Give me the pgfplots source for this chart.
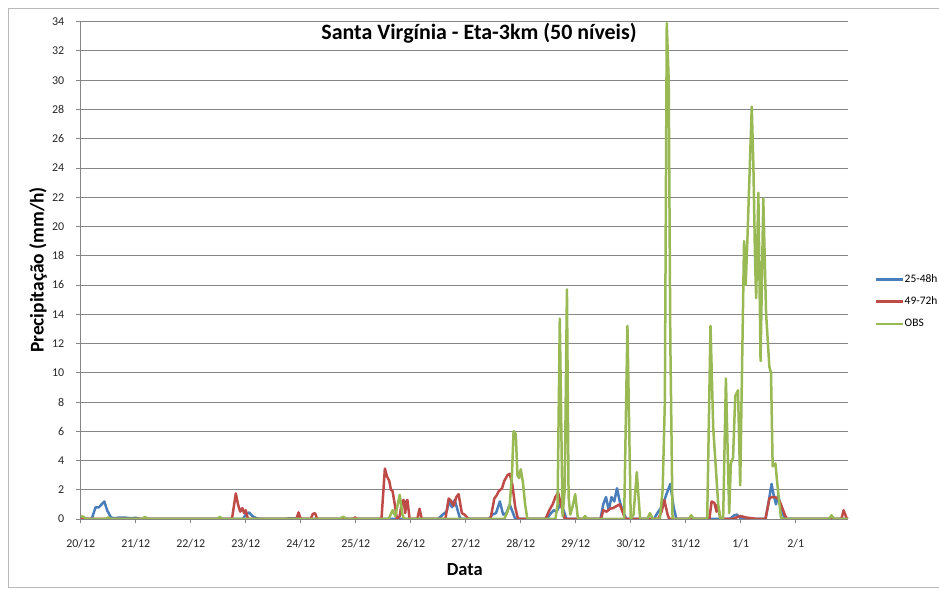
\documentclass[border=0pt]{standalone}
\usepackage{fontspec}
\setmainfont{Carlito}
\usepackage{pgfplots}
\pgfplotsset{compat=1.18}
\definecolor{sblue}{RGB}{74,126,187}
\definecolor{sred}{RGB}{190,75,72}
\definecolor{sgreen}{RGB}{152,185,84}
\definecolor{gridc}{RGB}{134,134,134}
\begin{document}
\begin{tikzpicture}
\path[use as bounding box] (0,0) rectangle (939bp,590bp);
\draw[gray!55,line width=0.8bp] (939bp,582bp) -- (8bp,582bp) -- (8bp,3bp) -- (939bp,3bp);
\begin{axis}[
 at={(80.7bp,71bp)}, anchor=south west,
 scale only axis, width=767.3bp, height=497.3bp,
 xmin=0, xmax=13.95, ymin=0, ymax=34,
 axis x line*=bottom, axis y line*=left,
 axis line style={-, gridc, line width=0.9bp},
 xtick={0,1,2,3,4,5,6,7,8,9,10,11,12,13},
 xticklabels={20/12,21/12,22/12,23/12,24/12,25/12,26/12,27/12,28/12,29/12,30/12,31/12,1/1,2/1},
 ytick={0,2,...,34},
 ymajorgrids, grid style={gridc, line width=0.9bp},
 tick align=outside, major tick length=4.5bp,
 tick style={gridc, line width=0.9bp},
 tick label style={font=\fontsize{12}{14}\selectfont, text=black!85},
 /pgf/number format/assume math mode=true,
 yticklabel style={anchor=east, inner sep=0pt, xshift=-11.7bp},
 xticklabel style={anchor=base, inner sep=0pt, yshift=-24.3bp},
 legend style={at={(1.0352,0.437)}, anchor=west, draw=none, fill=none,
   font=\fontsize{11.5}{13}\selectfont, inner sep=0pt, row sep=11.3bp,
   nodes={inner sep=0pt, text height=8.5bp, text depth=2.5bp}},
 legend cell align=left,
 legend image code/.code={\draw[#1, line width=2.5bp] (0bp,0bp) -- (23bp,0bp); \path (23bp,0bp) -- (27bp,0bp);},
 every axis plot/.append style={line width=2.5bp, line join=round, mark=none},
]
\addplot[sblue] coordinates {
(0,0) (0.2,0) (0.27,0.8) (0.33,0.8) (0.38,1.0) (0.43,1.2) (0.48,0.6) (0.55,0.1) (0.62,0.05) (0.7,0.1) (0.8,0.1) (0.9,0.05) (1.0,0.08) (1.1,0)
(2.95,0) (3.0,0.3) (3.06,0.45) (3.12,0.2) (3.2,0.05) (3.3,0)
(3.7,0) (3.8,0.05) (3.95,0.05) (4.0,0)
(6.5,0) (6.58,0.3) (6.65,0.5) (6.7,1.2) (6.75,0.8) (6.8,1.3) (6.86,0.5) (6.9,0)
(7.43,0) (7.48,0.3) (7.55,0.4) (7.62,1.2) (7.68,0.3) (7.74,0.4) (7.8,1.0) (7.86,0.4) (7.9,0)
(8.47,0) (8.55,0.4) (8.6,0.6) (8.65,0.5) (8.72,1.0) (8.78,0.6) (8.83,0)
(9.45,0) (9.5,1.0) (9.55,1.5) (9.6,0.6) (9.65,1.5) (9.7,1.2) (9.75,2.1) (9.8,1.2) (9.86,0.5) (9.92,0)
(10.42,0) (10.5,0.5) (10.58,0.9) (10.64,1.6) (10.72,2.4) (10.78,0.8) (10.83,0)
(11.8,0) (11.88,0.25) (11.93,0.3) (12.0,0.05) (12.1,0)
(12.45,0) (12.5,1.0) (12.56,2.4) (12.6,1.6) (12.64,1.0) (12.68,1.6) (12.74,0.7) (12.8,0) (13.95,0)
};
\addplot[sred] coordinates {
(0,0) (2.75,0) (2.82,1.75) (2.86,1.0) (2.9,0.5) (2.94,0.75) (2.97,0.4) (3.0,0.6) (3.04,0)
(3.92,0) (3.96,0.45) (4.0,0) (4.18,0) (4.22,0.35) (4.26,0.4) (4.3,0)
(4.95,0) (4.99,0.1) (5.03,0)
(5.44,0) (5.47,0.1) (5.53,3.45) (5.57,2.9) (5.61,2.6) (5.64,2.0) (5.67,1.9) (5.71,1.0) (5.75,0) (5.8,0.2) (5.84,1.2) (5.87,1.3) (5.9,0.4) (5.92,1.2) (5.94,1.3) (5.98,0) (6.12,0) (6.16,0.7) (6.2,0)
(6.63,0) (6.69,1.4) (6.74,1.2) (6.78,0.9) (6.83,1.5) (6.87,1.7) (6.93,0.4) (6.98,0.3) (7.05,0)
(7.45,0) (7.52,1.4) (7.56,1.6) (7.6,1.9) (7.66,2.1) (7.7,2.6) (7.76,3.0) (7.8,3.1) (7.85,2.3) (7.9,0.8) (7.95,0)
(8.45,0) (8.52,0.6) (8.58,1.0) (8.63,1.5) (8.68,1.8) (8.73,1.0) (8.8,0)
(9.46,0) (9.5,0.6) (9.56,0.5) (9.62,0.7) (9.68,0.75) (9.75,0.9) (9.8,1.0) (9.85,0.5) (9.9,0)
(10.5,0) (10.56,0.5) (10.61,1.3) (10.67,0.3) (10.7,0)
(11.43,0) (11.47,1.2) (11.52,1.1) (11.56,0.5) (11.58,1.0) (11.63,0)
(11.85,0) (11.95,0.15) (12.0,0.2) (12.1,0.1) (12.2,0.05) (12.3,0)
(12.45,0) (12.52,1.4) (12.56,1.5) (12.62,1.5) (12.68,1.4) (12.73,1.0) (12.8,0.3) (12.84,0)
(13.83,0) (13.87,0.6) (13.92,0.1) (13.95,0)
};
\addplot[sgreen] coordinates {
(0,0.2) (0.05,0.15) (0.1,0) (0.45,0) (0.5,0.1) (0.55,0) (1.12,0) (1.17,0.15) (1.22,0) (2.48,0) (2.53,0.15) (2.58,0) (4.7,0) (4.77,0.15) (4.84,0)
(5.6,0) (5.67,0.6) (5.72,0.2) (5.8,1.65) (5.85,0.3) (5.88,0)
(7.7,0) (7.76,0.5) (7.8,1.0) (7.84,3.0) (7.87,6.0) (7.91,5.8) (7.94,3.0) (7.97,2.8) (8.0,3.4) (8.04,2.5) (8.08,1.0) (8.12,0)
(8.63,0) (8.67,1.0) (8.71,13.7) (8.76,0.2) (8.8,2.0) (8.84,15.7) (8.87,1.5) (8.9,0.3) (8.94,0.8) (8.99,1.7) (9.04,0)
(9.13,0) (9.17,0.2) (9.21,0)
(9.88,0) (9.94,13.2) (10.0,0) (10.05,0.3) (10.11,3.2) (10.17,0) (10.3,0) (10.35,0.4) (10.4,0)
(10.53,0) (10.58,2) (10.62,8) (10.655,33.9) (10.69,30) (10.72,12) (10.76,0)
(11.05,0) (11.1,0.25) (11.15,0)
(11.39,0) (11.45,13.2) (11.5,6.2) (11.59,1.0) (11.63,0) (11.68,0) (11.73,9.6) (11.79,0.4) (11.82,3.8) (11.86,4.2) (11.9,8.4) (11.95,8.8) (11.99,2.3) (12.06,19.0) (12.09,16) (12.12,19) (12.2,28.2) (12.23,24.1) (12.26,17.7) (12.28,15.1) (12.32,22.3) (12.36,10.8) (12.41,21.9) (12.46,14.1) (12.52,10.4) (12.55,10.0) (12.58,3.6) (12.63,3.8) (12.67,2.2) (12.73,0.1) (12.78,0)
(13.6,0) (13.65,0.25) (13.7,0) (13.95,0)
};
\legend{25-48h,49-72h,OBS}
\end{axis}
\node[anchor=base, font=\fontsize{22}{26}\selectfont\bfseries] at (479bp,550.7bp) {Santa Virgínia - Eta-3km (50 níveis)};
\node[anchor=base, rotate=90, font=\fontsize{19.5}{23}\selectfont\bfseries] at (43.5bp,320bp) {Precipitação (mm/h)};
\node[anchor=base, font=\fontsize{18.5}{22}\selectfont\bfseries] at (464.7bp,15bp) {Data};
\end{tikzpicture}
\end{document}
